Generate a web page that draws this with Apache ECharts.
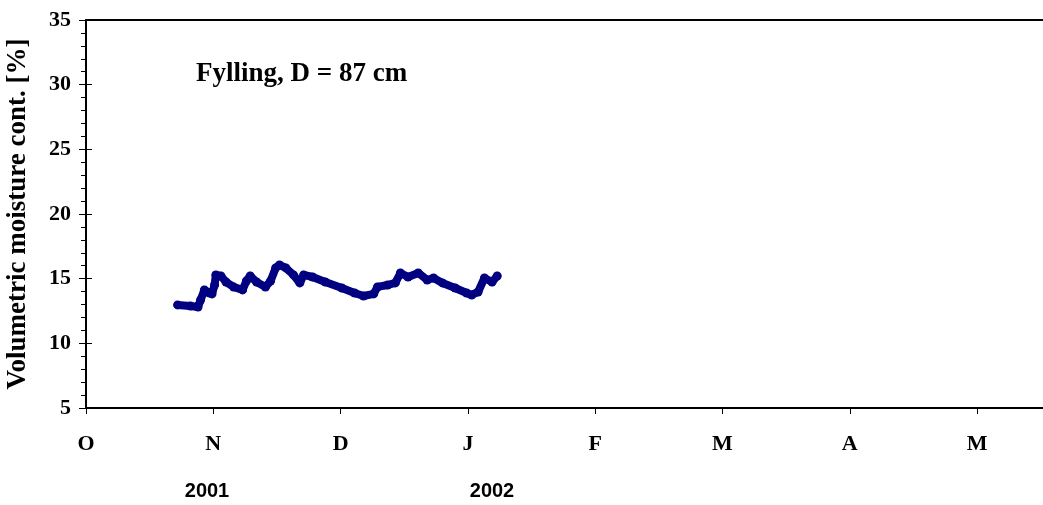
<!DOCTYPE html>
<html>
<head>
<meta charset="utf-8">
<title>Fylling, D = 87 cm</title>
<script src="https://cdn.jsdelivr.net/npm/echarts@6.0.0/dist/echarts.min.js"></script>
<style>
  html, body { margin: 0; padding: 0; background: #fff; }
  #chart { width: 1043px; height: 505px; }
</style>
</head>
<body>
<div id="chart"></div>
<script>
// x is counted in months from 1 Oct 2001 (each month tick is the same width)
let monthTicks = [0, 1, 2, 3, 4, 5, 6, 7];
let monthLabels = ['O', 'N', 'D', 'J', 'F', 'M', 'A', 'M'];
let yearLabels = ['2001', '2002'];

// position in months, moisture in %
let monthPos = [0.72, 0.82, 0.88, 0.90, 0.93, 0.97, 0.99, 1.01, 1.02, 1.06,
  1.10, 1.16, 1.23, 1.26, 1.29, 1.34, 1.41, 1.45, 1.49, 1.52,
  1.57, 1.63, 1.68, 1.71, 1.78, 1.88, 2.01, 2.11, 2.18, 2.26,
  2.29, 2.37, 2.43, 2.47, 2.53, 2.61, 2.68, 2.73, 2.80, 2.90,
  2.99, 3.03, 3.08, 3.13, 3.19, 3.23];
let moisture = [12.97, 12.89, 12.81, 13.35, 14.13, 13.89, 13.82, 14.51, 15.29, 15.21,
  14.74, 14.36, 14.13, 14.82, 15.21, 14.74, 14.36, 14.82, 15.83, 16.06,
  15.83, 15.29, 14.67, 15.29, 15.13, 14.74, 14.28, 13.89, 13.66, 13.82,
  14.36, 14.51, 14.67, 15.44, 15.13, 15.44, 14.90, 15.05, 14.67, 14.28,
  13.89, 13.74, 13.97, 15.05, 14.74, 15.21];

let serif = '"Liberation Serif", "Times New Roman", serif';
let sans = '"Liberation Sans", Arial, sans-serif';

let xMax = 7.518; // the axis runs off the right edge of the picture

let seriesData = monthPos.map(function (m, i) { return [m, moisture[i]]; });

let option = {
  animation: false,
  backgroundColor: '#fff',
  grid: { left: 86, top: 20, right: 0, bottom: 97, outerBoundsMode: 'none' },
  xAxis: [
    {
      type: 'value', min: 0, max: xMax,
      axisLine: { show: true, lineStyle: { color: '#000', width: 2 } },
      axisTick: { show: true, length: 6, lineStyle: { color: '#000', width: 1 }, customValues: monthTicks },
      axisLabel: {
        customValues: monthTicks,
        margin: 25,
        fontFamily: serif, fontWeight: 'bold', fontSize: 22, color: '#000',
        formatter: function (v) { return monthLabels[Math.round(v)]; }
      },
      splitLine: { show: false }
    },
    {
      // top frame line
      type: 'value', position: 'top', min: 0, max: xMax,
      axisLine: { show: true, lineStyle: { color: '#000', width: 2 } },
      axisTick: { show: false }, axisLabel: { show: false }, splitLine: { show: false }
    }
  ],
  yAxis: [
    {
      type: 'value', min: 5, max: 35, interval: 5,
      name: 'Volumetric moisture cont. [%]',
      nameLocation: 'middle', nameGap: 54, nameRotate: 90,
      nameTextStyle: { fontFamily: serif, fontWeight: 'bold', fontSize: 27, color: '#000' },
      axisLine: { show: true, lineStyle: { color: '#000', width: 2 } },
      axisTick: { show: true, length: 7, lineStyle: { color: '#000', width: 1 } },
      minorTick: { show: true, splitNumber: 5, length: 5, lineStyle: { color: '#000', width: 1 } },
      axisLabel: { margin: 15, fontFamily: serif, fontWeight: 'bold', fontSize: 22, color: '#000' },
      splitLine: { show: false }
    },
    {
      // major ticks also poke inside the plot
      type: 'value', min: 5, max: 35, interval: 5, position: 'left',
      axisLine: { show: false },
      axisTick: { show: true, inside: true, length: 6, lineStyle: { color: '#000', width: 1 } },
      axisLabel: { show: false }, splitLine: { show: false }
    }
  ],
  series: [
    {
      type: 'line',
      data: seriesData,
      symbol: 'circle', symbolSize: 9, showAllSymbol: true,
      itemStyle: { color: '#000080' },
      lineStyle: { color: '#000080', width: 8, cap: 'round', join: 'round' },
      silent: true
    }
  ],
  graphic: [
    {
      type: 'text', left: 196, top: 61,
      style: { text: 'Fylling, D = 87 cm', font: 'bold 27px ' + serif, fill: '#000' }
    },
    {
      type: 'text', x: 207, y: 491,
      style: { text: yearLabels[0], font: 'bold 20px ' + sans, fill: '#000', align: 'center', verticalAlign: 'middle' }
    },
    {
      type: 'text', x: 492, y: 491,
      style: { text: yearLabels[1], font: 'bold 20px ' + sans, fill: '#000', align: 'center', verticalAlign: 'middle' }
    }
  ]
};

let myChart = echarts.init(document.getElementById('chart'));
myChart.setOption(option);
</script>
</body>
</html>
